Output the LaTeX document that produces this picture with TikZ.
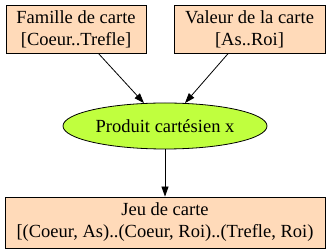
\documentclass[tikz,border=0pt]{standalone}
\usepackage{fontspec}
\setmainfont{Liberation Serif}
\usetikzlibrary{shapes.geometric,arrows.meta}
\definecolor{peach}{HTML}{FFDAB9}
\definecolor{lime}{HTML}{C0FF3E}
\begin{document}
\begin{tikzpicture}[x=1pt,y=1pt,
  setbox/.style={draw=black,fill=peach,line width=0.8pt,rectangle,align=center,
    inner sep=0pt,font=\fontsize{18.5}{22}\selectfont},
  opnode/.style={draw=black,fill=lime,line width=0.8pt,ellipse,inner sep=0pt,
    minimum width=204pt,minimum height=46pt,font=\fontsize{18.5}{22}\selectfont},
  flow/.style={-{Triangle[length=10pt,width=7pt]},line width=0.8pt}]
\useasboundingbox (0,0) rectangle (331,251);
% the two input sets
\node[setbox,minimum width=140pt,minimum height=48pt] (suit) at (76,222)
  {Famille de carte\\{}[Coeur..Trefle]};
\node[setbox,minimum width=151pt,minimum height=48pt] (rank) at (249.5,222)
  {Valeur de la carte\\{}[As..Roi]};
% the operation
\node[opnode] (prod) at (165,125) {Produit cartésien x};
% the resulting set
\node[setbox,minimum width=320pt,minimum height=51pt] (deck) at (165,28.5)
  {Jeu de carte\\{}[(Coeur, As)..(Coeur, Roi)..(Trefle, Roi)};
\draw[flow] (suit) -- (prod);
\draw[flow] (rank) -- (prod);
\draw[flow] (prod) -- (deck);
\end{tikzpicture}
\end{document}
